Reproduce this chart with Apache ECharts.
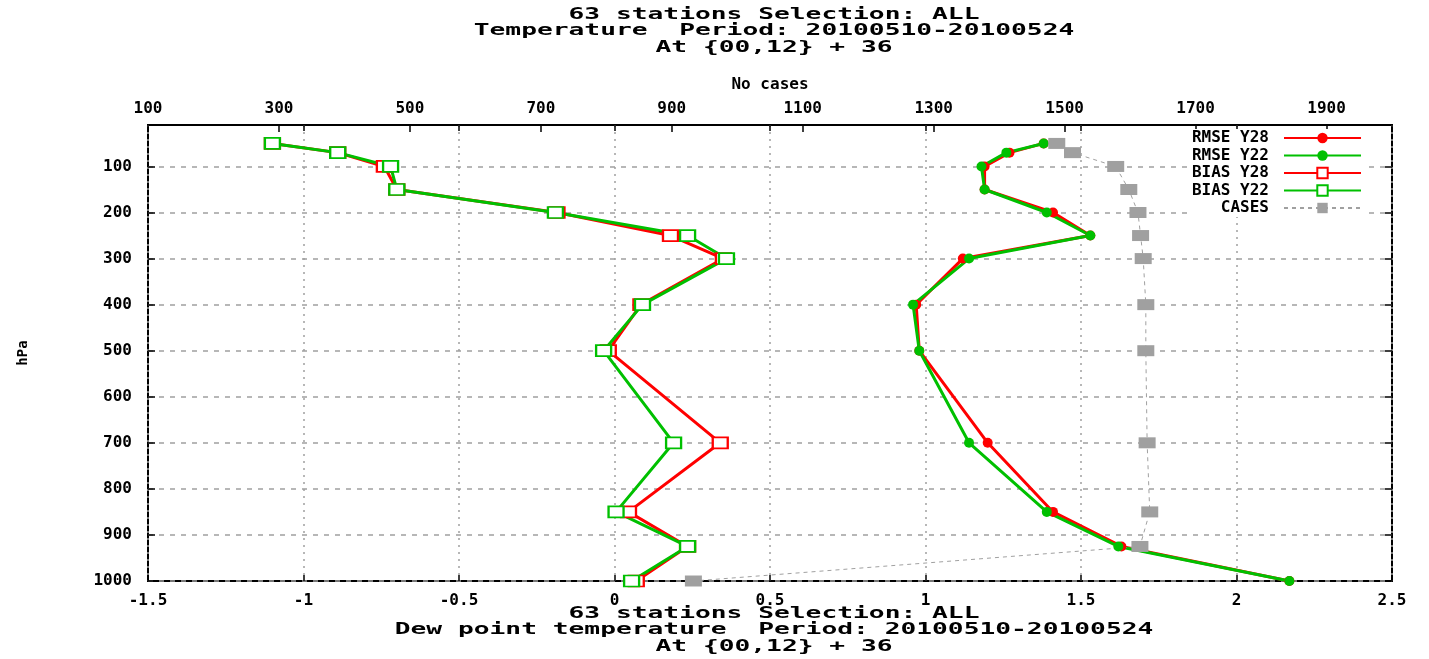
<!DOCTYPE html>
<html><head><meta charset="utf-8">
<script src="https://cdn.jsdelivr.net/npm/echarts@6/dist/echarts.min.js"></script>
<style>html,body{margin:0;padding:0;background:#fff}#c{width:1429px;height:659px}</style>
</head><body><div id="c"></div>
<script>
// ---- data ----
const levels  = [50, 70, 100, 150, 200, 250, 300, 400, 500, 700, 850, 925, 1000];
const rmseY28 = [1.38, 1.27, 1.19, 1.19, 1.41, 1.53, 1.12, 0.97, 0.98, 1.20, 1.41, 1.63, 2.17];
const rmseY22 = [1.38, 1.26, 1.18, 1.19, 1.39, 1.53, 1.14, 0.96, 0.98, 1.14, 1.39, 1.62, 2.17];
const biasY28 = [-1.10, -0.89, -0.74, -0.70, -0.185, 0.18, 0.35, 0.085, -0.02, 0.34, 0.045, 0.235, 0.07];
const biasY22 = [-1.10, -0.89, -0.72, -0.70, -0.19, 0.235, 0.36, 0.09, -0.035, 0.19, 0.005, 0.235, 0.055];
const cases   = [1488, 1512, 1578, 1598, 1612, 1616, 1620, 1624, 1624, 1626, 1630, 1615, 933];
const caseTicks = [100, 300, 500, 700, 900, 1100, 1300, 1500, 1700, 1900];
const pTicks = [100, 200, 300, 400, 500, 600, 700, 800, 900, 1000];
const titleTop = ['63 stations Selection: ALL', 'Temperature  Period: 20100510-20100524', 'At {00,12} + 36'];
const titleBottom = ['63 stations Selection: ALL', 'Dew point temperature  Period: 20100510-20100524', 'At {00,12} + 36'];

const RED = '#ff0000', GREEN = '#00c000', GRAY = '#a0a0a0';
const FONT = 'DejaVu Sans Mono';
const chart = echarts.init(document.getElementById('c'), null, {renderer: 'canvas'});

function pairs(xs) { return levels.map((p, i) => [xs[i], p]); }
function rmse(name, xs, color) {
  return {name, type: 'line', data: pairs(xs), symbol: 'circle', symbolSize: 10,
    lineStyle: {color, width: 3}, itemStyle: {color}, animation: false, emphasis: {disabled: true}};
}
function bias(name, xs, color) {
  return {name, type: 'line', data: pairs(xs), symbol: 'emptyRect', symbolSize: [15, 11],
    lineStyle: {color, width: 3}, itemStyle: {color, borderColor: color, borderWidth: 3},
    animation: false, emphasis: {disabled: true}};
}
const plain = v => String(v);
const labelStyle = {fontFamily: FONT, fontWeight: 'bold', fontSize: 16, color: '#000'};

function titleText(lines, y0) {
  return lines.map((t, i) => ({type: 'text', x: 774, y: y0 + i * 16.5, scaleX: 1.75,
    style: {text: t, font: 'bold 15px "' + FONT + '"', fill: '#000', textAlign: 'center', textVerticalAlign: 'middle'}}));
}

chart.setOption({
  backgroundColor: '#fff',
  animation: false,
  grid: {left: 148, right: 37, top: 125, bottom: 78, show: true, borderColor: '#000', borderWidth: 2},
  legend: {
    orient: 'vertical', align: 'right', right: 63, top: 129,
    itemWidth: 77, itemHeight: 13, itemGap: 1.5, backgroundColor: '#fff', padding: [1, 4, 1, 4],
    textStyle: Object.assign({}, labelStyle, {padding: [0, 10, 0, 0], lineHeight: 14}),
    data: ['RMSE Y28', 'RMSE Y22', 'BIAS Y28', 'BIAS Y22', 'CASES']
  },
  xAxis: [
    {type: 'value', position: 'bottom', min: -1.5, max: 2.5, interval: 0.5,
     axisLine: {show: false, onZero: false}, axisTick: {inside: true, length: 6, lineStyle: {color: '#000', width: 1.5}},
     axisLabel: Object.assign({margin: 12, formatter: plain}, labelStyle),
     splitLine: {show: true, lineStyle: {color: GRAY, width: 1.5, type: [2, 5]}}},
    {type: 'value', position: 'top', min: 100, max: 2000,
     name: 'No cases', nameLocation: 'middle', nameGap: 32, nameTextStyle: labelStyle,
     axisLine: {show: false, onZero: false},
     axisTick: {inside: true, length: 7, customValues: caseTicks, lineStyle: {color: '#000', width: 1.5}},
     axisLabel: Object.assign({margin: 8, customValues: caseTicks, formatter: plain}, labelStyle),
     splitLine: {show: false}},
    {type: 'value', position: 'top', min: -1.5, max: 2.5, interval: 0.5,
     axisLine: {show: false, onZero: false}, axisTick: {inside: true, length: 6, lineStyle: {color: '#000', width: 1.5}},
     axisLabel: {show: false}, splitLine: {show: false}}
  ],
  yAxis: [
    {type: 'value', position: 'left', inverse: true, min: 10, max: 1000,
     name: 'hPa', nameLocation: 'middle', nameRotate: 90, nameGap: 118,
     nameTextStyle: {fontFamily: FONT, fontWeight: 'bold', fontSize: 14, color: '#000'},
     axisLine: {show: false, onZero: false},
     axisTick: {inside: true, length: 7, customValues: pTicks, lineStyle: {color: '#000', width: 1.5}},
     axisLabel: Object.assign({margin: 16, customValues: pTicks, formatter: plain}, labelStyle),
     splitLine: {show: true, lineStyle: {color: GRAY, width: 1.5, type: [5, 6]}}},
    {type: 'value', position: 'right', inverse: true, min: 10, max: 1000,
     axisLine: {show: false, onZero: false},
     axisTick: {inside: true, length: 7, customValues: pTicks, lineStyle: {color: '#000', width: 1.5}},
     axisLabel: {show: false}, splitLine: {show: false}}
  ],
  series: [
    rmse('RMSE Y28', rmseY28, RED),
    rmse('RMSE Y22', rmseY22, GREEN),
    bias('BIAS Y28', biasY28, RED),
    bias('BIAS Y22', biasY22, GREEN),
    {name: 'CASES', type: 'line', xAxisIndex: 1, data: levels.map((p, i) => [cases[i], p]),
     symbol: 'rect', symbolSize: [17, 11], itemStyle: {color: GRAY},
     lineStyle: {color: GRAY, width: 1, type: [4, 4]}, animation: false, emphasis: {disabled: true}}
  ],
  graphic: titleText(titleTop, 15).concat(titleText(titleBottom, 614))
});
</script></body></html>
